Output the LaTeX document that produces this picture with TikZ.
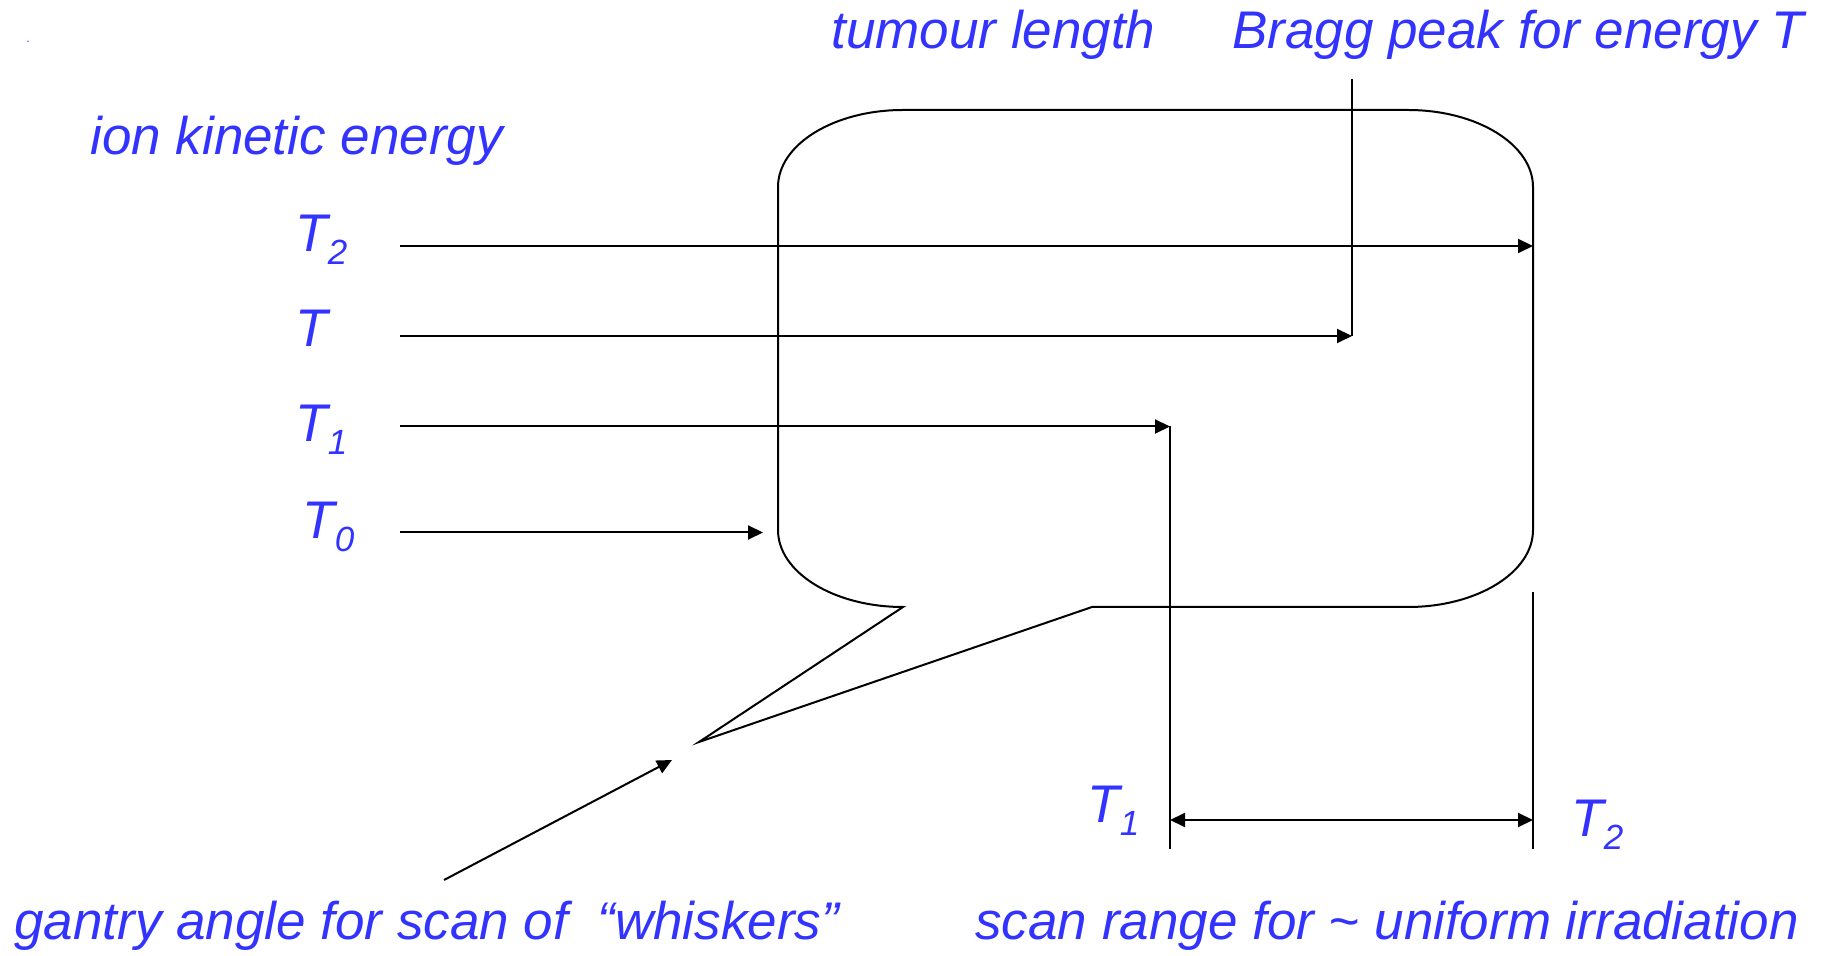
\documentclass[tikz,border=0pt]{standalone}
\usepackage{fontspec}
\setmainfont{Liberation Sans}
\usetikzlibrary{arrows.meta}
\definecolor{lblue}{RGB}{51,51,255}
\newcommand\subidx[1]{\raisebox{-6.5pt}{\fontsize{17.5}{17.5}\selectfont #1}}
\begin{document}
\begin{tikzpicture}[x=0.5pt,y=-0.5pt,
  lbl/.style={text=lblue,font=\fontsize{26.5}{30}\selectfont\itshape,inner sep=0pt,anchor=base west},
  tl/.style={text=lblue,font=\fontsize{26.5}{30}\selectfont\itshape,inner sep=0pt,anchor=base west},
  ln/.style={line width=1pt},
  arr/.style={line width=1pt,-{Triangle[length=7.5pt,width=7pt]}},
  darr/.style={line width=1pt,{Triangle[length=7.5pt,width=7pt]}-{Triangle[length=7.5pt,width=7pt]}},
]
\useasboundingbox (0,0) rectangle (1827,956);

% labels
\node[text=lblue,font=\fontsize{6}{6}\selectfont,inner sep=0pt] (dot) at (28,42) {.};
\node[lbl] (tumour) at (831,49) {tumour length};
\node[lbl] (bragg) at (1232,49) {Bragg peak for energy T};
\node[lbl] (ion) at (90,155) {ion kinetic energy};
\node[tl] (lT2) at (295,252) {T\subidx{2}};
\node[tl] (lT) at (295,347) {T};
\node[tl] (lT1) at (295,442) {T\subidx{1}};
\node[tl] (lT0) at (302,539) {T\subidx{0}};
\node[tl] (bT1) at (1087,822) {T\subidx{1}};
\node[tl] (bT2) at (1571,836) {T\subidx{2}};
\node[lbl] (gantry) at (14,939) {gantry angle for scan of\ \ “whiskers”};
\node[lbl] (scan) at (975,939) {scan range for \char`\~\ uniform irradiation};

% tumour outline with callout
\draw[ln] (903,607) -- (699,742) -- (1092,607) -- (1408,607)
  .. controls (1477,607) and (1533,572.5) .. (1533,530) -- (1533,187)
  .. controls (1533,144.5) and (1477,110) .. (1408,110) -- (903,110)
  .. controls (834,110) and (778,144.5) .. (778,187) -- (778,530)
  .. controls (778,572.5) and (834,607) .. cycle;

% coordinates
\coordinate (s2) at (400,246);   \coordinate (e2) at (1533,246);
\coordinate (s)  at (400,336);   \coordinate (e)  at (1352,336);
\coordinate (s1) at (400,426.5); \coordinate (e1) at (1170,426.5);
\coordinate (s0) at (400,532.5); \coordinate (e0) at (763,532.5);
\coordinate (b0) at (1352,79);
\coordinate (v1) at (1170,849);
\coordinate (v2t) at (1533,592); \coordinate (v2b) at (1533,849);
\coordinate (d1) at (1170,820);  \coordinate (d2) at (1533,820);
\coordinate (g0) at (444,880);   \coordinate (g1) at (672,760);

% beams
\draw[arr] (s2) -- (e2);
\draw[arr] (s) -- (e);
\draw[arr] (s1) -- (e1);
\draw[arr] (s0) -- (e0);

% markers
\draw[ln] (b0) -- (e);
\draw[ln] (e1) -- (v1);
\draw[ln] (v2t) -- (v2b);
\draw[darr] (d1) -- (d2);
\draw[arr] (g0) -- (g1);
\end{tikzpicture}
\end{document}
